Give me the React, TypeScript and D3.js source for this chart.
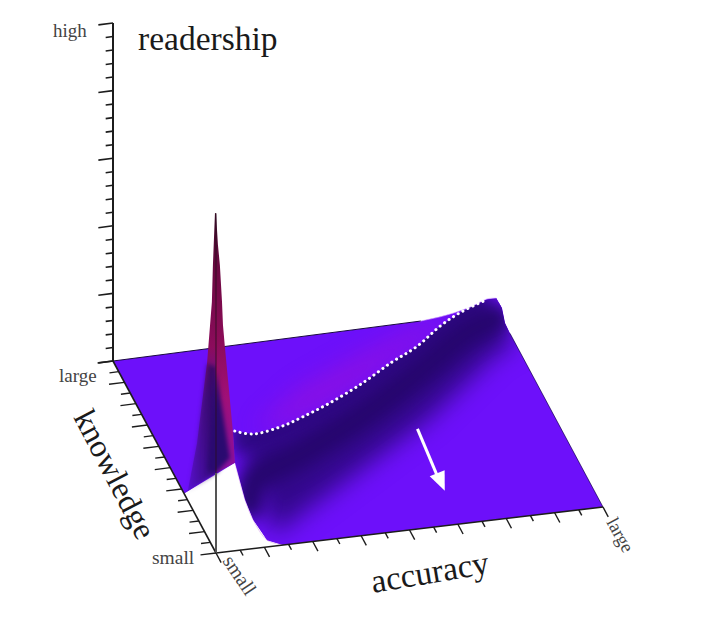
import React from 'react';
import * as d3 from 'd3';

// all values as fractions of the axis: accuracy, knowledge, readership
const accuracyTicks = d3.range(17).map(i => i / 16);
const knowledgeTicks = d3.range(19).map(i => i / 18);
const readershipTicks = d3.range(26).map(i => i / 25);

// crest of the ridge (the dotted line)
const ridgeAccuracy = [0.083, 0.145, 0.239, 0.318, 0.412, 0.526, 0.63, 0.713, 0.803, 0.872, 0.958];
const ridgeKnowledge = [0.129, 0.188, 0.277, 0.352, 0.441, 0.55, 0.649, 0.727, 0.813, 0.878, 0.96];
const ridgeReadership = [0.276, 0.225, 0.182, 0.158, 0.135, 0.115, 0.106, 0.093, 0.096, 0.087, 0.062];

// steepest, darkest part of the front slope
const coreAccuracy = [0.145, 0.19, 0.332, 0.534, 0.727, 0.9, 0.982];
const coreKnowledge = [0.215, 0.334, 0.43, 0.58, 0.753, 0.919, 0.962];

// where the front slope of the ridge meets the floor
const footAccuracy = [0.165, 0.254, 0.355, 0.693, 0.938, 1];
const footKnowledge = [0.05, 0.137, 0.227, 0.527, 0.795, 0.83];

// where the back slope of the ridge meets the floor
const backFootAccuracy = [0.255, 0.416, 0.604, 0.817, 0.96];
const backFootKnowledge = [0.579, 0.749, 0.871, 0.991, 1];

// back edge (knowledge = large) as it climbs onto the ridge
const backEdgeAccuracy = [0, 0.797, 0.849, 0.883, 0.927, 0.971, 0.995];
const backEdgeReadership = [0, 0, 0.005, 0.011, 0.022, 0.04, 0.039];

// right edge (accuracy = large) coming off the ridge
const rightEdgeKnowledge = [0.962, 0.933, 0.886, 0];
const rightEdgeReadership = [0.031, 0.003, 0, 0];

// spike, edge along knowledge = small
const frontCurveAccuracy = [0, 0.005, 0.01, 0.0155, 0.018, 0.023, 0.031, 0.044, 0.049, 0.075, 0.096, 0.132, 0.173];
const frontCurveReadership = [1.005, 0.911, 0.851, 0.741, 0.672, 0.606, 0.508, 0.349, 0.26, 0.147, 0.085, 0.02, 0];

// spike, edge along accuracy = small
const sideCurveKnowledge = [0.01, 0.03, 0.04, 0.058, 0.087, 0.136, 0.184, 0.272, 0.31];
const sideCurveReadership = [1.0, 0.834, 0.72, 0.64, 0.512, 0.366, 0.221, 0.032, 0];

const spikeShadeAccuracy = [0, 0.036, 0, 0];
const spikeShadeKnowledge = [0, 0, 0, 0.08];
const spikeShadeReadership = [0.541, 0.276, 0.237, 0.2];

const arrowShaft = [[0.651, 0.484], [0.637, 0.23]];
const arrowHead = [[0.619, 0.248], [0.637, 0.17], [0.663, 0.268]];

const frontX = d3.scaleLinear().domain([0, 1]).range([216, 603]);
const frontY = d3.scaleLinear().domain([0, 1]).range([553, 507]);
const backX = d3.scaleLinear().domain([0, 1]).range([113, 498]);
const backY = d3.scaleLinear().domain([0, 1]).range([361, 311]);
const heightPx = d3.scaleLinear().domain([0, 1]).range([0, 338]);

type Pt = [number, number];

const project = (a: number, k: number, z = 0): Pt => [
  frontX(a) + (backX(a) - frontX(a)) * k,
  frontY(a) + (backY(a) - frontY(a)) * k - heightPx(z),
];

const ridge = ridgeAccuracy.map((a, i) => project(a, ridgeKnowledge[i], ridgeReadership[i]));
const core = coreAccuracy.map((a, i) => project(a, coreKnowledge[i]));
const foot = footAccuracy.map((a, i) => project(a, footKnowledge[i]));
const backFoot = backFootAccuracy.map((a, i) => project(a, backFootKnowledge[i]));
const backEdge = backEdgeAccuracy.map((a, i) => project(a, 1, backEdgeReadership[i]));
const rightEdge = rightEdgeKnowledge.map((k, i) => project(1, k, rightEdgeReadership[i]));
const frontCurve = frontCurveAccuracy.map((a, i) => project(a, 0, frontCurveReadership[i]));
const sideCurve = sideCurveKnowledge.map((k, i) => project(0, k, sideCurveReadership[i]));
const spikeShade = spikeShadeAccuracy.map((a, i) => project(a, spikeShadeKnowledge[i], spikeShadeReadership[i]));
const peak = project(0, 0, 1.005);
const spikeBase = project(0, 0, 0.237);

const smooth = d3.line<Pt>().curve(d3.curveCatmullRom);
const poly = d3.line<Pt>();
const closed = (p: Pt[]) => poly(p) + 'Z';

// index 8 of frontCurve is where the spike meets the lower surface
const lowerCurve = frontCurve.slice(8);
const floorOutline = closed([
  ...backEdge,
  ...rightEdge,
  ...lowerCurve.slice().reverse(),
  ...sideCurve.slice(-1),
  project(0, 1),
]);
const slopeOutline = closed([
  ...frontCurve.slice(7).reverse(),
  ...ridge,
  project(1, 1, 0.04),
  ...rightEdge,
]);
const darkBand = closed([...ridge, ...foot.slice().reverse()]);
const glowBand = closed([...ridge.slice(2), ...backFoot.slice().reverse()]);
const spikeLeft = closed([...sideCurve, spikeBase, peak]);
const spikeLeftLow = closed([project(0, 0, 0.55), ...sideCurve.slice(4), spikeBase]);
const spikeRight = closed([...frontCurve.slice(0, 9), spikeBase]);

const axisColor = '#1c1c1c';

const App = () => {
  const [ax0, ax1] = [project(0, 0), project(1, 0)];
  const kBack = project(0, 1);
  const top = project(0, 1, 1);

  return (
    <svg
      width={713}
      height={624}
      style={{ position: 'absolute', left: 0, top: 0, background: '#fff' }}
      fontFamily="'Liberation Serif', serif"
    >
      <defs>
        <clipPath id="floorClip"><path d={floorOutline} /></clipPath>
        <clipPath id="slopeClip"><path d={slopeOutline} /></clipPath>
        <filter id="blurBig" x="-30%" y="-30%" width="160%" height="160%" colorInterpolationFilters="sRGB"><feGaussianBlur stdDeviation="12" /></filter>
        <filter id="blurMid" x="-30%" y="-30%" width="160%" height="160%" colorInterpolationFilters="sRGB"><feGaussianBlur stdDeviation="8" /></filter>
        <filter id="blurSmall" x="-30%" y="-30%" width="160%" height="160%" colorInterpolationFilters="sRGB"><feGaussianBlur stdDeviation="2" /></filter>
        <linearGradient id="leftFace" gradientUnits="userSpaceOnUse" x1="0" y1="212" x2="0" y2="493">
          <stop offset="0" stopColor="#3c0a28" />
          <stop offset="0.2" stopColor="#6a0840" />
          <stop offset="0.48" stopColor="#8c0c5c" />
          <stop offset="0.66" stopColor="#5c10a0" />
          <stop offset="1" stopColor="#5a10d8" />
        </linearGradient>
        <linearGradient id="leftShade" gradientUnits="userSpaceOnUse" x1="186" y1="0" x2="216" y2="0">
          <stop offset="0" stopColor="#28085e" stopOpacity="0" />
          <stop offset="1" stopColor="#28085e" stopOpacity="0.85" />
        </linearGradient>
        <linearGradient id="rightFace" gradientUnits="userSpaceOnUse" x1="0" y1="212" x2="0" y2="470">
          <stop offset="0" stopColor="#3c0a28" />
          <stop offset="0.2" stopColor="#6a0840" />
          <stop offset="0.5" stopColor="#8c0c58" />
          <stop offset="0.72" stopColor="#a01078" />
          <stop offset="1" stopColor="#8a10a0" />
        </linearGradient>
      </defs>

      {/* floor */}
      <path d={floorOutline} fill="#6d10fa" />
      <g clipPath="url(#floorClip)">
        <path d={glowBand} fill="#9a10d8" opacity={0.65} filter="url(#blurBig)" />
        <g clipPath="url(#slopeClip)">
          <path d={slopeOutline} fill="#6d10fa" />
          <path d={darkBand} fill="#33088c" filter="url(#blurBig)" />
          <path d={smooth(ridge) ?? ''} fill="none" stroke="#2e0882" strokeWidth={36} filter="url(#blurMid)" />
          <path d={smooth(core) ?? ''} fill="none" stroke="#26066e" strokeWidth={28} strokeLinecap="round" filter="url(#blurMid)" />
        </g>
      </g>

      {/* outline of the floor */}
      <path d={poly([project(0, 1), project(0.8, 1)]) ?? ''} stroke="#1a0a40" strokeWidth={1} fill="none" />
      <path d={smooth(backEdge.slice(1)) ?? ''} stroke="#d8b0ff" strokeWidth={1} fill="none" opacity={0.6} />
      <path d={smooth(rightEdge.slice(2)) ?? ''} stroke="#1a0a50" strokeWidth={1} fill="none" opacity={0.7} />
      <path d={smooth(lowerCurve) ?? ''} stroke="#c070e0" strokeWidth={1} fill="none" opacity={0.35} />

      {/* spike */}
      <path d={spikeLeft} fill="url(#leftFace)" />
      <path d={spikeLeftLow} fill="url(#leftShade)" filter="url(#blurSmall)" />
      <path d={spikeRight} fill="url(#rightFace)" />
      <path d={closed(spikeShade)} fill="#2a0a70" filter="url(#blurSmall)" />

      {/* dotted crest */}
      <path d={smooth(ridge) ?? ''} fill="none" stroke="#fff" strokeWidth={3} strokeLinecap="round" strokeDasharray="0.1 5.4" />

      {/* arrow lying on the floor */}
      <path
        d={poly(arrowShaft.map(([a, k]) => project(a, k))) ?? ''}
        stroke="#fff"
        strokeWidth={3}
        fill="none"
      />
      <path d={closed(arrowHead.map(([a, k]) => project(a, k)))} fill="#fff" />

      {/* axes */}
      <path d={poly([kBack, top]) ?? ''} stroke={axisColor} strokeWidth={2} fill="none" />
      <path d={poly([kBack, ax0]) ?? ''} stroke={axisColor} strokeWidth={1.6} fill="none" />
      <path d={poly([ax0, ax1]) ?? ''} stroke={axisColor} strokeWidth={1.6} fill="none" />
      <path d={poly([ax0, spikeBase]) ?? ''} stroke="#555" strokeWidth={2} fill="none" />
      <path d={poly([spikeBase, peak]) ?? ''} stroke="#2a1020" strokeWidth={1.2} fill="none" opacity={0.7} />

      {readershipTicks.map((z, i) => (
        <path
          key={`z${i}`}
          d={poly([project(0, 1, z), project(i % 5 === 0 ? -0.038 : -0.019, 1, z)]) ?? ''}
          stroke={axisColor}
          strokeWidth={1.6}
        />
      ))}
      {knowledgeTicks.map((k, i) => (
        <path
          key={`k${i}`}
          d={poly([project(0, k), project(i % 2 === 0 ? -0.04 : -0.024, k)]) ?? ''}
          stroke={axisColor}
          strokeWidth={1.4}
        />
      ))}
      {accuracyTicks.map((a, i) => (
        <path
          key={`a${i}`}
          d={poly([project(a, 0), project(a, i % 2 === 0 ? -0.05 : -0.028)]) ?? ''}
          stroke={axisColor}
          strokeWidth={1.4}
        />
      ))}

      {/* labels */}
      <text x={138} y={50} fontSize={33.5} fill="#1a1a1a">readership</text>
      <text x={53} y={37} fontSize={19} fill="#444">high</text>
      <text x={59} y={382} fontSize={19} fill="#444">large</text>
      <text x={152} y={564} fontSize={19.5} fill="#444">small</text>
      <text transform="translate(222,561) rotate(56)" fontSize={20} fill="#444">small</text>
      <text transform="translate(606,522) rotate(61)" fontSize={18.5} fill="#444">large</text>
      <text transform="translate(73,417) rotate(62.5)" fontSize={32} fill="#1a1a1a">knowledge</text>
      <text transform="translate(373,593) rotate(-9.5)" fontSize={33.5} fill="#1a1a1a">accuracy</text>
    </svg>
  );
};

export default App;
